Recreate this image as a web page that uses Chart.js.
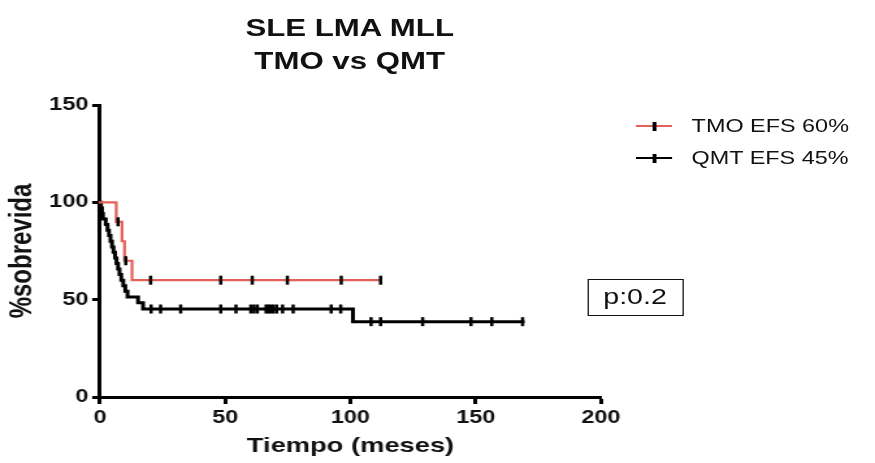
<!DOCTYPE html>
<html>
<head>
<meta charset="utf-8">
<script src="https://cdn.jsdelivr.net/npm/chart.js@4/dist/chart.umd.min.js"></script>
<style>
  html, body { margin:0; padding:0; background:#fff; width:875px; height:463px; overflow:hidden; }
  #stage { position:absolute; left:0; top:0; width:673px; height:463px; transform:scaleX(1.3); transform-origin:0 0;
           font-family:"Liberation Sans", Arial, sans-serif; color:#111; }
  #chart { position:absolute; left:0; top:0; }
  #title { position:absolute; left:0; top:11px; width:538px; text-align:center; font-weight:bold; font-size:24px; line-height:33px; }
  .ln { position:absolute; left:489px; width:28px; height:2px; }
  .tk { position:absolute; left:502px; width:2.5px; height:9px; background:#000; }
  .lt { position:absolute; left:532px; font-size:18px; line-height:20px; white-space:nowrap; }
  #pbox { position:absolute; left:451.5px; top:279px; width:74px; height:37px; box-sizing:border-box; border:1.5px solid #111;
          text-align:center; font-size:22px; line-height:34px; }
</style>
</head>
<body>
<div id="stage">
  <canvas id="chart" width="673" height="463"></canvas>
  <div id="title">SLE LMA MLL<br>TMO vs QMT</div>
  <div class="ln" style="top:125px;background:#e4605a"></div><div class="tk" style="top:121.5px"></div>
  <div class="lt" style="top:116px">TMO EFS 60%</div>
  <div class="ln" style="top:157px;background:#000"></div><div class="tk" style="top:153.5px"></div>
  <div class="lt" style="top:148px">QMT EFS 45%</div>
  <div id="pbox">p:0.2</div>
</div>
<script>
// ---- data ----
const tmoTimes    = [0, 6.5, 8.8, 9.8, 12.8, 112];
const tmoSurv     = [100, 90, 80, 70, 60, 60];
const tmoCensored = [7.2, 10.3, 20.2, 48.2, 60.8, 74.8, 96.3, 112];

const qmtTimes    = [0, 0.4, 0.8, 1.2, 2.3, 3.0, 3.6, 4.2, 4.8, 5.4, 6.0, 6.6, 7.2, 7.8, 8.5, 9.3, 10.1, 11.0, 15.2, 17.2, 101, 168.7];
const qmtSurv     = [100, 97.1, 94.3, 91.4, 88.6, 85.7, 82.9, 80.0, 77.1, 74.3, 71.4, 68.6, 65.7, 62.9, 60.0, 57.1, 54.3, 51.4, 48.4, 45.2, 38.7, 38.7];
const qmtCensored = [20.4, 24.2, 32.2, 48.2, 54.3, 60.2, 61.5, 62.8, 66.3, 67.2, 68.1, 69.2, 70.5, 72.9, 77.1, 92.3, 96.1,
                     108.2, 112, 128.8, 148.1, 156.4, 168.7];

const xTicks = [0, 50, 100, 150, 200];
const yTicks = [0, 50, 100, 150];
const seriesLabels = ['TMO EFS 60%', 'QMT EFS 45%'];

function survAt(times, surv, t) {
  let v = surv[0];
  for (let i = 0; i < times.length; i++) { if (times[i] <= t) v = surv[i]; }
  return v;
}
const pts = (times, surv) => times.map((t, i) => ({ x: t, y: surv[i] }));
const cens = (c, times, surv) => c.map(t => ({ x: t, y: survAt(times, surv, t) }));

const FAM = '"Liberation Sans", Arial, sans-serif';
const RED = '#e4605a';

const censorStyle = {
  type: 'scatter', showLine: false, pointStyle: 'line', pointRotation: 90,
  pointRadius: 4.5, pointBorderWidth: 2.5, pointBorderColor: '#000', pointBackgroundColor: '#000', clip: false
};

new Chart(document.getElementById('chart').getContext('2d'), {
  type: 'line',
  data: {
    datasets: [
      Object.assign({ label: seriesLabels[0] + ' censored', data: cens(tmoCensored, tmoTimes, tmoSurv) }, censorStyle),
      Object.assign({ label: seriesLabels[1] + ' censored', data: cens(qmtCensored, qmtTimes, qmtSurv) }, censorStyle),
      { label: seriesLabels[0], data: pts(tmoTimes, tmoSurv), stepped: 'before', borderColor: RED, borderWidth: 2.2,
        pointRadius: 0, fill: false, clip: false, borderCapStyle: 'square' },
      { label: seriesLabels[1], data: pts(qmtTimes, qmtSurv), stepped: 'before', borderColor: '#000', borderWidth: 3,
        pointRadius: 0, fill: false, clip: false, borderCapStyle: 'square' }
    ]
  },
  options: {
    responsive: false, animation: false, devicePixelRatio: 1, events: [],
    layout: { padding: { left: 0, right: 210.7, top: 105, bottom: 0 } },
    plugins: { legend: { display: false }, tooltip: { enabled: false }, title: { display: false } },
    scales: {
      x: {
        type: 'linear', min: 0, max: 200,
        afterBuildTicks: s => { s.ticks = xTicks.map(v => ({ value: v })); },
        ticks: { font: { family: FAM, size: 18, weight: 'bold' }, color: '#111', padding: 3, maxRotation: 0 },
        grid: { drawOnChartArea: false, drawTicks: true, tickLength: 7, tickWidth: 3, tickColor: '#000' },
        border: { display: true, width: 3, color: '#000' },
        title: { display: true, text: 'Tiempo (meses)', font: { family: FAM, size: 21, weight: 'bold' }, color: '#111',
                 padding: { top: 0, bottom: 4 } },
        afterFit: s => { s.height = 66; }
      },
      y: {
        type: 'linear', min: 0, max: 150,
        afterBuildTicks: s => { s.ticks = yTicks.map(v => ({ value: v })); },
        ticks: { font: { family: FAM, size: 18, weight: 'bold' }, color: '#111', padding: 3 },
        grid: { drawOnChartArea: false, drawTicks: true, tickLength: 6, tickWidth: 3, tickColor: '#000' },
        border: { display: true, width: 3, color: '#000' },
        title: { display: true, text: '%sobrevida', font: { family: FAM, size: 24, weight: 'bold' }, color: '#111',
                 padding: { top: 3, bottom: 0 } },
        afterFit: s => { s.width = 76.9; }
      }
    }
  }
});
</script>
</body>
</html>
